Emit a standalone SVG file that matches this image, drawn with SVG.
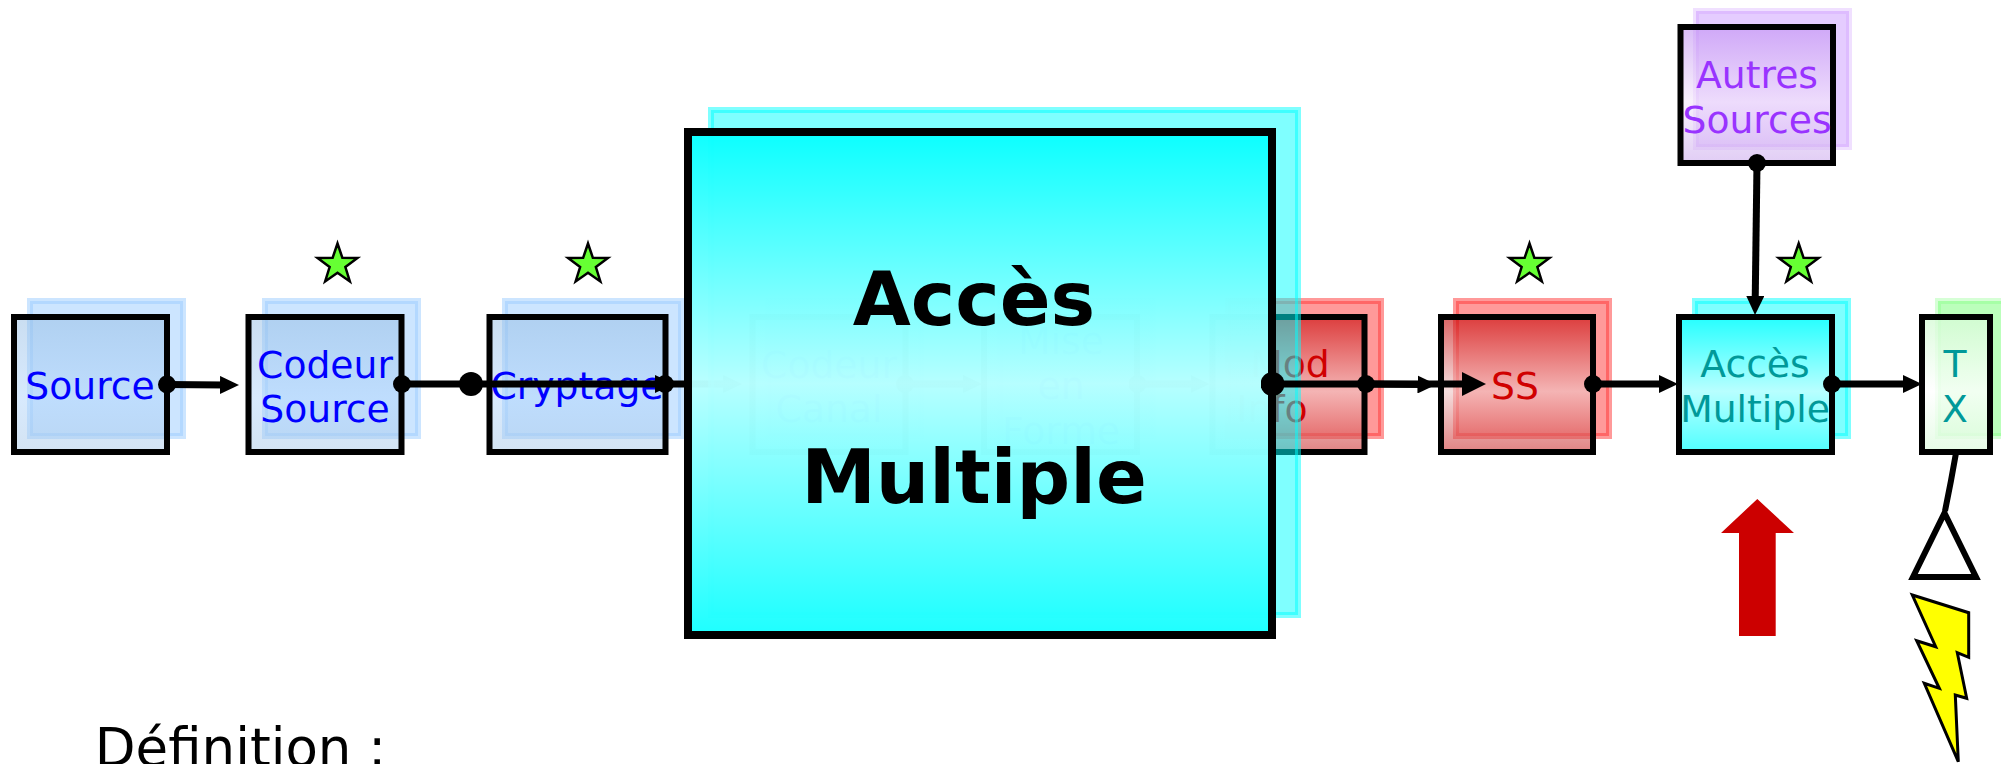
<svg xmlns="http://www.w3.org/2000/svg" xmlns:xlink="http://www.w3.org/1999/xlink" width="2001" height="764" viewBox="0 0 2001 764">
<style>
text{font-family:"DejaVu Sans","Liberation Sans",sans-serif;font-size:37.7px;text-anchor:middle}
.sh{stroke-width:6;fill-opacity:.5;stroke-opacity:.5}
.bx{stroke:#000;stroke-width:6}
.blue{fill:#00f}.red{fill:#d00000}.teal{fill:#009999}.pur{fill:#9933ff}
.shb{fill:#99ccff;stroke:#99ccff}.shr{fill:#ff3333;stroke:#ff3333}.shc{fill:#00ffff;stroke:#00ffff}.shg{fill:#77ff77;stroke:#77ff77;stroke-opacity:.3}.shp{fill:#cc99ff;stroke:#cc99ff;stroke-opacity:.3}
.ln{stroke:#000;stroke-width:7;fill:none}
.ar{marker-start:url(#dot);marker-end:url(#head)}
.star{fill:#66ff33;stroke:#000;stroke-width:2.5}
.big{font-size:75px;font-weight:bold}
</style>
<defs>
<linearGradient id="gb" x1="0" y1="0" x2="0" y2="1"><stop offset="0" stop-color="#94bce3" stop-opacity=".5"/><stop offset=".6" stop-color="#b1d5fb" stop-opacity=".5"/><stop offset="1" stop-color="#a7c7e7" stop-opacity=".5"/></linearGradient>
<linearGradient id="gr" x1="0" y1="0" x2="0" y2="1"><stop offset="0" stop-color="#c50000" stop-opacity=".6"/><stop offset=".55" stop-color="#edc6c6" stop-opacity=".6"/><stop offset="1" stop-color="#cd3030" stop-opacity=".6"/></linearGradient>
<linearGradient id="gc" x1="0" y1="0" x2="0" y2="1"><stop offset="0" stop-color="#25ffff"/><stop offset=".55" stop-color="#b8ffff"/><stop offset="1" stop-color="#50ffff"/></linearGradient>
<linearGradient id="gbig" x1="0" y1="0" x2="0" y2="1"><stop offset="0" stop-color="#08ffff" stop-opacity=".975"/><stop offset=".5" stop-color="#b8ffff" stop-opacity=".975"/><stop offset="1" stop-color="#18ffff" stop-opacity=".975"/></linearGradient>
<linearGradient id="gp" x1="0" y1="0" x2="0" y2="1"><stop offset="0" stop-color="#c190f3" stop-opacity=".6"/><stop offset=".55" stop-color="#f3e6fa" stop-opacity=".6"/><stop offset="1" stop-color="#cdacee" stop-opacity=".6"/></linearGradient>
<linearGradient id="gg" x1="0" y1="0" x2="0" y2="1"><stop offset="0" stop-color="#d6fbd6" stop-opacity=".8"/><stop offset=".55" stop-color="#ffffff" stop-opacity=".8"/><stop offset="1" stop-color="#e0fbe0" stop-opacity=".8"/></linearGradient>
<marker id="head" markerUnits="userSpaceOnUse" markerWidth="19" markerHeight="18" refX="5" refY="9" orient="auto"><path d="M0,0L19,9L0,18z"/></marker>
<marker id="bighead" markerUnits="userSpaceOnUse" markerWidth="24" markerHeight="24" refX="4" refY="12" orient="auto"><path d="M0,0L24,12L0,24z"/></marker>
<marker id="dot" markerUnits="userSpaceOnUse" markerWidth="18" markerHeight="18" refX="9" refY="9"><circle cx="9" cy="9" r="9"/></marker>
<marker id="bigdot" markerUnits="userSpaceOnUse" markerWidth="24" markerHeight="24" refX="12" refY="12"><circle cx="12" cy="12" r="12"/></marker>
<polygon id="st" class="star" points="0,-21 4.87,-6.7 19.97,-6.49 7.88,2.56 12.34,16.99 0,8.29 -12.34,16.99 -7.88,2.56 -19.97,-6.49 -4.87,-6.7"/>
</defs>
<rect width="2001" height="764" fill="#fff"/>

<g id="source"><rect class="sh shb" x="30" y="301" width="153" height="135"/><rect class="bx" x="14" y="317" width="153" height="135" fill="url(#gb)"/><text class="blue" x="90" y="399">Source</text></g>
<g id="codeur-source"><rect class="sh shb" x="265" y="301" width="153" height="135"/><rect class="bx" x="248.500" y="317" width="153" height="135" fill="url(#gb)"/><text class="blue" x="325" y="378">Codeur</text><text class="blue" x="325" y="422">Source</text></g>
<g id="cryptage"><rect class="sh shb" x="505" y="301" width="176" height="135"/><rect class="bx" x="489.500" y="317" width="176" height="135" fill="url(#gb)"/><text class="blue" x="577" y="399">Cryptage</text></g>
<g id="codeur-canal"><rect class="sh shb" x="768" y="301" width="153" height="135"/><rect class="bx" x="752.500" y="317" width="153" height="135" fill="url(#gb)"/><text class="blue" x="829" y="378">Codeur</text><text class="blue" x="829" y="422">Canal</text></g>
<g id="mise-en-forme"><rect class="sh shb" x="1000" y="301" width="153" height="135"/><rect class="bx" x="984" y="317" width="153" height="135" fill="url(#gb)"/><text class="blue" x="1061" y="354">Mise</text><text class="blue" x="1061" y="399">en</text><text class="blue" x="1061" y="444">Forme</text></g>
<g id="mod-info"><rect class="sh shr" x="1228" y="301" width="153" height="135"/><rect class="bx" x="1212.500" y="317" width="152" height="135" fill="url(#gr)"/><text class="red" x="1290" y="377">Mod</text><text class="red" x="1272" y="422">Info</text></g>
<g id="ss"><rect class="sh shr" x="1456" y="301" width="153" height="135"/><rect class="bx" x="1441" y="317" width="152" height="135" fill="url(#gr)"/><text class="red" x="1515" y="399">SS</text></g>
<g id="acces-multiple"><rect class="sh shc" x="1695" y="301" width="153" height="135"/><rect class="bx" x="1679" y="317" width="153" height="135" fill="url(#gc)"/><text class="teal" x="1755" y="377">Accès</text><text class="teal" x="1755" y="422">Multiple</text></g>
<g id="autres-sources"><rect class="sh shp" x="1696" y="11" width="153" height="136"/><rect class="bx" x="1680.500" y="27" width="152.500" height="136" fill="url(#gp)"/><text class="pur" x="1757" y="88">Autres</text><text class="pur" x="1757" y="133">Sources</text></g>
<g id="tx"><rect class="sh shg" x="1938" y="301" width="80" height="135"/><rect class="bx" x="1922" y="317" width="68" height="135" fill="url(#gg)"/><text class="teal" x="1955" y="377">T</text><text class="teal" x="1955" y="422">X</text></g>

<g id="connectors">
<line class="ln ar" x1="167" y1="384.500" x2="225" y2="385"/>
<line class="ln" x1="402" y1="384" x2="471" y2="384" marker-start="url(#dot)"/>
<line class="ln" x1="471" y1="384" x2="660" y2="384" marker-start="url(#bigdot)" marker-end="url(#head)"/>
<line class="ln ar" x1="665" y1="384" x2="728" y2="384"/>
<line class="ln ar" x1="905" y1="384" x2="968" y2="384"/>
<line class="ln ar" x1="1137.500" y1="384" x2="1195.500" y2="384"/>
<line class="ln ar" x1="1593" y1="384" x2="1664" y2="384"/>
<line class="ln ar" x1="1832" y1="384" x2="1908" y2="384"/>
<line class="ln ar" x1="1757" y1="163" x2="1755.200" y2="301"/>
<path d="M1956,453Q1951,482 1945,511" fill="none" stroke="#000" stroke-width="6"/>
</g>

<g id="acces-multiple-focus"><rect class="sh shc" x="711" y="110" width="587" height="505"/><rect x="688" y="132" width="584" height="503" fill="url(#gbig)" stroke="#000" stroke-width="8"/><text class="big" x="974" y="325">Accès</text><text class="big" x="974" y="503">Multiple</text></g>

<g id="connectors-front">
<line class="ln" x1="1272.500" y1="384" x2="1466" y2="384" marker-start="url(#bigdot)" marker-end="url(#bighead)"/>
<line class="ln ar" x1="1366" y1="384" x2="1422.500" y2="384.500"/>
</g>

<g id="stars"><use xlink:href="#st" href="#st" x="337.500" y="264.500"/><use xlink:href="#st" href="#st" x="588" y="264.500"/><use xlink:href="#st" href="#st" x="1529.500" y="264.500"/><use xlink:href="#st" href="#st" x="1798.700" y="264.500"/></g>

<g id="antenna"><polygon points="1944.500,513 1976,577 1913,577" fill="#fff" stroke="#000" stroke-width="6"/></g>
<g id="lightning"><polygon points="1912.300,595 1968.700,612.700 1968.700,657.300 1957.300,652.700 1966.700,698.300 1955.300,695 1958.300,761.700 1924.300,683.300 1939.300,688.300 1916.700,640.700 1935.700,646.700" fill="#ffff00" stroke="#000" stroke-width="3"/></g>
<g id="red-arrow"><polygon points="1757.300,499 1794,533 1775.700,533 1775.700,636 1739,636 1739,533 1721,533" fill="#cc0000"/></g>
<text x="240.500" y="766" style="font-size:53px">Définition :</text>
</svg>
